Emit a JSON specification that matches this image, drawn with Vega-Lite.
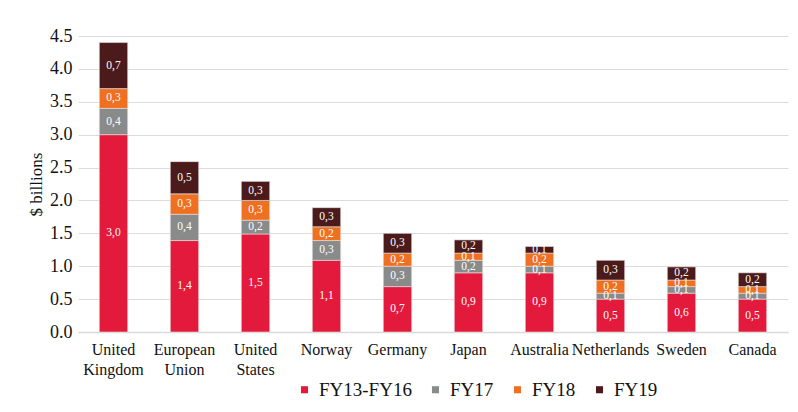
{
  "$schema": "https://vega.github.io/schema/vega-lite/v6.json",
  "autosize": "none",
  "width": 710,
  "height": 296,
  "padding": {"left": 78, "top": 36, "right": 10, "bottom": 80},
  "background": "white",
  "config": {
    "view": {"stroke": null},
    "font": "Liberation Serif",
    "axis": {"labelFont": "Liberation Serif", "titleFont": "Liberation Serif", "labelColor": "#111", "titleColor": "#111"},
    "legend": {"labelFont": "Liberation Serif", "labelColor": "#111"},
    "text": {"font": "Liberation Serif"}
  },
  "data": {
    "values": [
      {"country": "United Kingdom", "period": "FY13-FY16", "ord": 1, "value": 3.0, "label": "3,0"},
      {"country": "United Kingdom", "period": "FY17", "ord": 2, "value": 0.4, "label": "0,4"},
      {"country": "United Kingdom", "period": "FY18", "ord": 3, "value": 0.3, "label": "0,3"},
      {"country": "United Kingdom", "period": "FY19", "ord": 4, "value": 0.7, "label": "0,7"},
      {"country": "European Union", "period": "FY13-FY16", "ord": 1, "value": 1.39, "label": "1,4"},
      {"country": "European Union", "period": "FY17", "ord": 2, "value": 0.4, "label": "0,4"},
      {"country": "European Union", "period": "FY18", "ord": 3, "value": 0.31, "label": "0,3"},
      {"country": "European Union", "period": "FY19", "ord": 4, "value": 0.49, "label": "0,5"},
      {"country": "United States", "period": "FY13-FY16", "ord": 1, "value": 1.49, "label": "1,5"},
      {"country": "United States", "period": "FY17", "ord": 2, "value": 0.21, "label": "0,2"},
      {"country": "United States", "period": "FY18", "ord": 3, "value": 0.3, "label": "0,3"},
      {"country": "United States", "period": "FY19", "ord": 4, "value": 0.29, "label": "0,3"},
      {"country": "Norway", "period": "FY13-FY16", "ord": 1, "value": 1.09, "label": "1,1"},
      {"country": "Norway", "period": "FY17", "ord": 2, "value": 0.3, "label": "0,3"},
      {"country": "Norway", "period": "FY18", "ord": 3, "value": 0.21, "label": "0,2"},
      {"country": "Norway", "period": "FY19", "ord": 4, "value": 0.29, "label": "0,3"},
      {"country": "Germany", "period": "FY13-FY16", "ord": 1, "value": 0.69, "label": "0,7"},
      {"country": "Germany", "period": "FY17", "ord": 2, "value": 0.31, "label": "0,3"},
      {"country": "Germany", "period": "FY18", "ord": 3, "value": 0.2, "label": "0,2"},
      {"country": "Germany", "period": "FY19", "ord": 4, "value": 0.3, "label": "0,3"},
      {"country": "Japan", "period": "FY13-FY16", "ord": 1, "value": 0.9, "label": "0,9"},
      {"country": "Japan", "period": "FY17", "ord": 2, "value": 0.19, "label": "0,2"},
      {"country": "Japan", "period": "FY18", "ord": 3, "value": 0.11, "label": "0,1"},
      {"country": "Japan", "period": "FY19", "ord": 4, "value": 0.2, "label": "0,2"},
      {"country": "Australia", "period": "FY13-FY16", "ord": 1, "value": 0.9, "label": "0,9"},
      {"country": "Australia", "period": "FY17", "ord": 2, "value": 0.1, "label": "0,1"},
      {"country": "Australia", "period": "FY18", "ord": 3, "value": 0.2, "label": "0,2"},
      {"country": "Australia", "period": "FY19", "ord": 4, "value": 0.1, "label": "0,1"},
      {"country": "Netherlands", "period": "FY13-FY16", "ord": 1, "value": 0.5, "label": "0,5"},
      {"country": "Netherlands", "period": "FY17", "ord": 2, "value": 0.09, "label": "0,1"},
      {"country": "Netherlands", "period": "FY18", "ord": 3, "value": 0.2, "label": "0,2"},
      {"country": "Netherlands", "period": "FY19", "ord": 4, "value": 0.3, "label": "0,3"},
      {"country": "Sweden", "period": "FY13-FY16", "ord": 1, "value": 0.59, "label": "0,6"},
      {"country": "Sweden", "period": "FY17", "ord": 2, "value": 0.1, "label": "0,1"},
      {"country": "Sweden", "period": "FY18", "ord": 3, "value": 0.1, "label": "0,1"},
      {"country": "Sweden", "period": "FY19", "ord": 4, "value": 0.2, "label": "0,2"},
      {"country": "Canada", "period": "FY13-FY16", "ord": 1, "value": 0.5, "label": "0,5"},
      {"country": "Canada", "period": "FY17", "ord": 2, "value": 0.09, "label": "0,1"},
      {"country": "Canada", "period": "FY18", "ord": 3, "value": 0.1, "label": "0,1"},
      {"country": "Canada", "period": "FY19", "ord": 4, "value": 0.21, "label": "0,2"}
    ]
  },
  "transform": [
    {"stack": "value", "groupby": ["country"], "sort": [{"field": "ord", "order": "ascending"}], "as": ["y0", "y1"]},
    {"calculate": "(datum.y0 + datum.y1) / 2", "as": "ymid"}
  ],
  "encoding": {
    "x": {
      "field": "country",
      "type": "nominal",
      "sort": null,
      "scale": {"paddingInner": 0.6, "paddingOuter": 0.3},
      "axis": {
        "title": null,
        "labelAngle": 0,
        "labelFontSize": 16,
        "labelExpr": "split(datum.label, ' ')",
        "labelLineHeight": 20,
        "labelPadding": 9,
        "ticks": false,
        "domainColor": "#d9d9d9",
        "domainWidth": 1.5,
        "labelBaseline": "top"
      }
    }
  },
  "layer": [
    {
      "mark": {"type": "bar", "stroke": "#e8e0e0", "strokeWidth": 0.6},
      "encoding": {
        "y": {
          "field": "y0",
          "type": "quantitative",
          "scale": {"domain": [0, 4.5]},
          "axis": {
            "title": "$ billions",
            "titleFontSize": 17,
            "titleFontWeight": "normal",
            "titlePadding": 4,
            "labelFontSize": 18,
            "labelPadding": 6,
            "labelOverlap": false,
            "format": ".1f",
            "values": [0, 0.5, 1, 1.5, 2, 2.5, 3, 3.5, 4, 4.5],
            "ticks": false,
            "domain": false,
            "gridColor": "#dcdcdc",
            "gridWidth": 1.2
          }
        },
        "y2": {"field": "y1"},
        "color": {
          "field": "period",
          "type": "nominal",
          "scale": {"domain": ["FY13-FY16", "FY17", "FY18", "FY19"], "range": ["#E31A3B", "#898B8B", "#F07022", "#4B1A1A"]},
          "legend": {
            "title": null,
            "orient": "none",
            "direction": "horizontal",
            "columns": 4,
            "legendX": 217,
            "legendY": 344,
            "symbolType": "square",
            "symbolSize": 50,
            "symbolStrokeWidth": 0,
            "labelFontSize": 19,
            "labelOffset": 5,
            "columnPadding": 14,
            "padding": 0
          }
        }
      }
    },
    {
      "mark": {"type": "text", "color": "white", "fontSize": 11.5, "baseline": "middle", "align": "center"},
      "encoding": {
        "y": {
          "field": "ymid",
          "type": "quantitative",
          "axis": {
            "title": "$ billions",
            "titleFontSize": 17,
            "titleFontWeight": "normal",
            "titlePadding": 4,
            "labelFontSize": 18,
            "labelPadding": 6,
            "labelOverlap": false,
            "format": ".1f",
            "values": [0, 0.5, 1, 1.5, 2, 2.5, 3, 3.5, 4, 4.5],
            "ticks": false,
            "domain": false,
            "gridColor": "#dcdcdc",
            "gridWidth": 1.2
          }
        },
        "text": {"field": "label"}
      }
    }
  ]
}
